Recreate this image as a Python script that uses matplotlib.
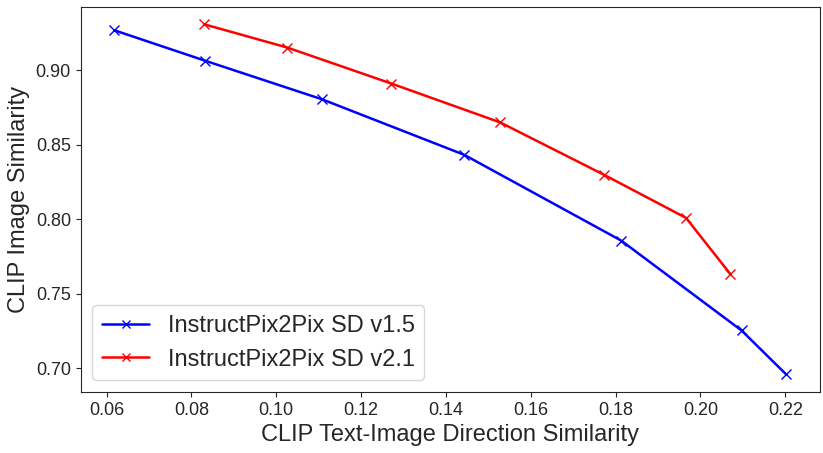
import numpy as np
import matplotlib
matplotlib.use("Agg")
import matplotlib.pyplot as plt
import seaborn as sns

# CLIP direction similarity vs image similarity
sd15_x = [0.0618, 0.0833, 0.1107, 0.1443, 0.1813, 0.2097, 0.2202]
sd15_y = [0.9267, 0.9062, 0.8805, 0.8432, 0.7857, 0.7254, 0.6960]
sd21_x = [0.0830, 0.1026, 0.1271, 0.1528, 0.1772, 0.1966, 0.2070]
sd21_y = [0.9307, 0.9151, 0.8910, 0.8649, 0.8299, 0.8009, 0.7634]

sns.set_style("ticks")
plt.rcParams['font.family'] = ['Liberation Sans', 'DejaVu Sans']

fig, ax = plt.subplots(figsize=(8.23, 4.53), dpi=100)
ax.plot(sd15_x, sd15_y, color="blue", marker="x", markersize=7, linewidth=1.8,
        label="InstructPix2Pix SD v1.5")
ax.plot(sd21_x, sd21_y, color="red", marker="x", markersize=7, linewidth=1.8,
        label="InstructPix2Pix SD v2.1")

ax.set_xlabel("CLIP Text-Image Direction Similarity", fontsize=17)
ax.set_ylabel("CLIP Image Similarity", fontsize=17)
ax.tick_params(labelsize=13)
ax.set_xticks(np.arange(0.06, 0.2201, 0.02))
ax.legend(loc="lower left", fontsize=17, markerscale=0.8)

plt.subplots_adjust(left=0.098, right=0.996, top=0.985, bottom=0.135)
fig.savefig("out.png", dpi=100)
